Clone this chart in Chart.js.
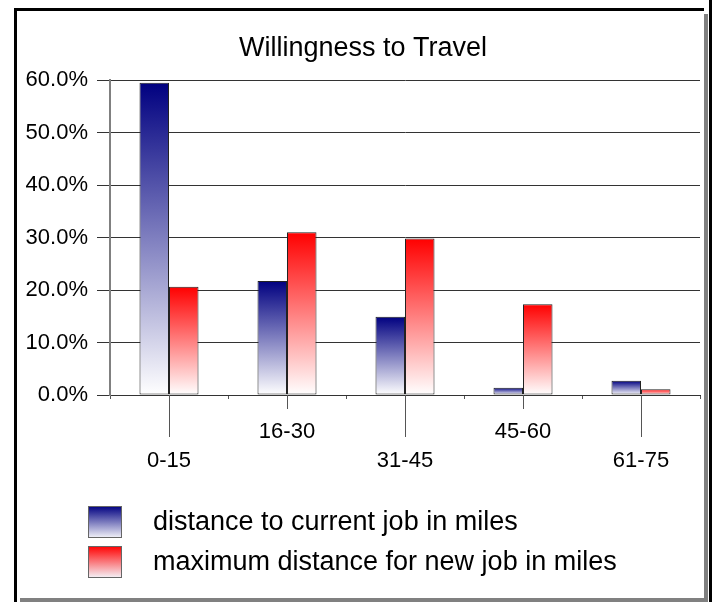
<!DOCTYPE html>
<html>
<head>
<meta charset="utf-8">
<script src="https://cdn.jsdelivr.net/npm/chart.js@4/dist/chart.umd.min.js"></script>
<style>
  html, body { margin: 0; padding: 0; background: #fff; }
  body { width: 712px; height: 602px; position: relative; overflow: hidden; }
  .f { position: absolute; }
  #wrap { position: absolute; left: 0; top: 0; width: 712px; height: 602px; }
</style>
</head>
<body>
<div class="f" style="left:14px;top:8px;width:690px;height:3px;background:#000"></div>
<div class="f" style="left:14px;top:8px;width:3px;height:594px;background:#000"></div>
<div class="f" style="left:704px;top:14px;width:4px;height:588px;background:#808080"></div>
<div class="f" style="left:20px;top:598px;width:688px;height:4px;background:#808080"></div>
<div class="f" style="left:709px;top:0px;width:3px;height:602px;background:#000"></div>
<div id="wrap"><canvas id="c" width="712" height="602"></canvas></div>
<script>
const categories = ['0-15', '16-30', '31-45', '45-60', '61-75'];
const currentJob = [59.5, 21.7, 14.9, 1.4, 2.7];
const newJob = [20.6, 31.0, 29.8, 17.3, 1.1];
const seriesNames = ['distance to current job in miles', 'maximum distance for new job in miles'];
const yTickValues = [0, 10, 20, 30, 40, 50, 60];
const seriesTopColors = ['#000080', '#ff0000'];

const FONT = "'Liberation Sans', Arial, sans-serif";

function barGradient(topColor) {
  return function (ctx) {
    if (ctx.type !== 'data') return topColor;
    const chart = ctx.chart;
    const ys = chart.scales.y;
    if (!ys) return topColor;
    const top = ys.getPixelForValue(ctx.raw);
    const base = ys.getPixelForValue(0);
    if (!isFinite(top) || !isFinite(base) || base - top < 0.5) return topColor;
    const g = chart.ctx.createLinearGradient(0, top, 0, base);
    g.addColorStop(0, topColor);
    g.addColorStop(1, '#ffffff');
    return g;
  };
}

const titleShift = {
  id: 'titleShift',
  afterLayout(chart) {
    if (chart.titleBlock) { chart.titleBlock.left += 26; }
  }
};

const extraTicks = {
  id: 'extraTicks',
  afterDraw(chart) {
    const c = chart.ctx, xs = chart.scales.x, bottom = chart.chartArea.bottom;
    c.save();
    c.strokeStyle = '#555';
    c.lineWidth = 1;
    categories.forEach((cat, i) => {
      const x = Math.round(xs.getPixelForValue(i)) + 0.5;
      const len = i % 2 === 0 ? 42 : 14;
      c.beginPath();
      c.moveTo(x, bottom);
      c.lineTo(x, bottom + len);
      c.stroke();
    });
    c.restore();
  }
};

const customLegend = {
  id: 'customLegend',
  afterDraw(chart) {
    const c = chart.ctx;
    const boxX = 88, boxW = 34, boxH = 32;
    const rows = [506, 546];
    c.save();
    chart.data.datasets.forEach((ds, i) => {
      const y = rows[i];
      const g = c.createLinearGradient(0, y, 0, y + boxH);
      g.addColorStop(0, seriesTopColors[i]);
      g.addColorStop(1, '#f4f4fa');
      c.fillStyle = g;
      c.fillRect(boxX, y, boxW, boxH);
      c.strokeStyle = '#666';
      c.lineWidth = 1;
      c.strokeRect(boxX + 0.5, y + 0.5, boxW - 1, boxH - 1);
      c.fillStyle = '#000';
      c.font = '27px ' + FONT;
      c.textBaseline = 'middle';
      c.textAlign = 'left';
      c.fillText(ds.label, 153, y + boxH / 2 + 1);
    });
    c.restore();
  }
};

new Chart(document.getElementById('c'), {
  type: 'bar',
  data: {
    labels: categories,
    datasets: [
      { label: seriesNames[0], data: currentJob, backgroundColor: barGradient(seriesTopColors[0]),
        borderColor: '#222', borderWidth: 1, borderSkipped: false },
      { label: seriesNames[1], data: newJob, backgroundColor: barGradient(seriesTopColors[1]),
        borderColor: '#222', borderWidth: 1, borderSkipped: false }
    ]
  },
  options: {
    responsive: false,
    devicePixelRatio: 1,
    animation: false,
    datasets: { bar: { categoryPercentage: 0.5, barPercentage: 1.0 } },
    layout: { padding: { left: 0, right: 12, top: 0, bottom: 127 } },
    plugins: {
      legend: { display: false },
      tooltip: { enabled: false },
      title: {
        display: true, text: 'Willingness to Travel', color: '#000',
        font: { family: FONT, size: 27, weight: 'normal', lineHeight: 1.2 },
        padding: { top: 32, bottom: 15.6 }
      }
    },
    scales: {
      x: {
        afterFit(s) { s.height = 80; },
        grid: { display: true, offset: true, drawOnChartArea: false, tickLength: 4, color: '#555' },
        border: { display: true, color: '#333' },
        ticks: {
          autoSkip: false, maxRotation: 0, minRotation: 0, color: '#000', padding: 18,
          font: { family: FONT, size: 22, lineHeight: 1.32 },
          callback: (v, i) => (i % 2 === 0 ? ['', categories[i]] : categories[i])
        }
      },
      y: {
        min: 0, max: 60,
        afterFit(s) { s.width = 110; },
        afterBuildTicks(s) { s.ticks = yTickValues.map(v => ({ value: v })); },
        grid: { color: '#333', tickLength: 13, lineWidth: 1 },
        border: { display: true, color: '#808080', width: 2 },
        ticks: {
          color: '#000', padding: 9,
          font: { family: FONT, size: 22 },
          callback: v => v.toFixed(1) + '%'
        }
      }
    }
  },
  plugins: [titleShift, extraTicks, customLegend]
});
</script>
</body>
</html>
